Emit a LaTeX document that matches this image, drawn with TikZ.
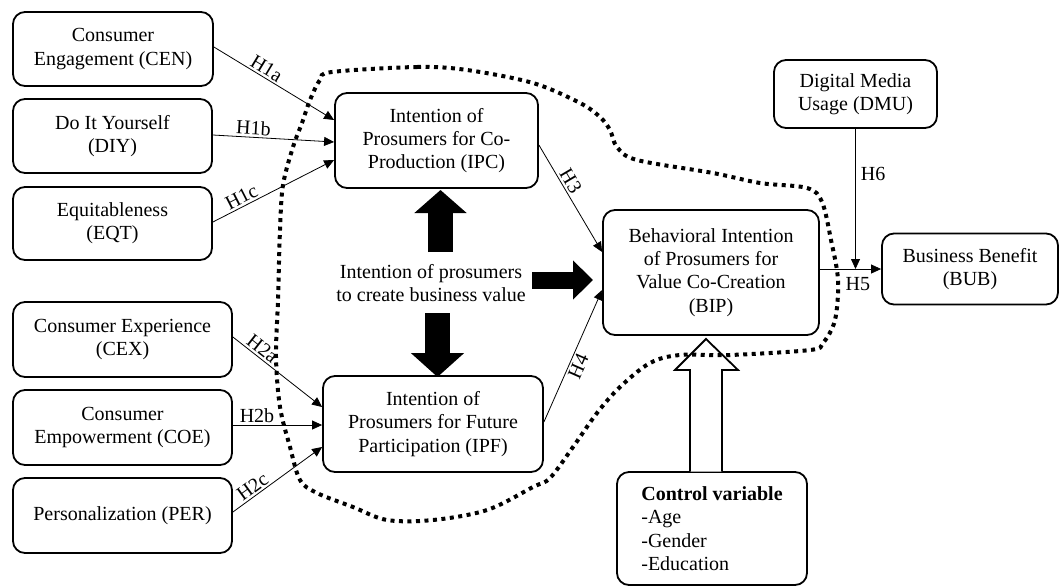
\documentclass[tikz,border=0pt]{standalone}
\usepackage{fontspec}
\setmainfont{Liberation Serif}
\usetikzlibrary{arrows.meta,calc}
\begin{document}
\begin{tikzpicture}[x=1pt,y=-1pt,
  box/.style={draw, line width=1.8pt, rounded corners=12pt, align=center,
    font=\fontsize{20}{23.3}\selectfont, inner sep=0pt},
  arr/.style={line width=0.8pt, -{Triangle[length=10pt,width=9pt]}},
  lab/.style={font=\fontsize{20}{23}\selectfont, inner sep=2pt},
  blob/.style={line width=4pt, dash pattern=on 4pt off 4.5pt},
  hollow/.style={draw, line width=1.8pt, fill=white}
]
\useasboundingbox (0,0) rectangle (1062,587);

% left boxes
\node[box, minimum width=200pt, minimum height=74pt] (cen) at (113,49) {Consumer\\Engagement (CEN)};
\node[box, minimum width=199pt, minimum height=74pt] (diy) at (112.5,136) {Do It Yourself\\(DIY)};
\node[box, minimum width=199pt, minimum height=73pt] (eqt) at (112.5,223.5) {Equitableness\\(EQT)};
\node[box, minimum width=219pt, minimum height=75pt] (cex) at (122.5,339.5) {Consumer Experience\\(CEX)};
\node[box, minimum width=219pt, minimum height=75pt] (coe) at (122.5,427.5) {Consumer\\Empowerment (COE)};
\node[box, minimum width=219pt, minimum height=75pt] (per) at (122.5,515.5) {Personalization (PER)};

% middle boxes
\node[box, minimum width=203pt, minimum height=95pt] (ipc) at (436.5,140.5) {Intention of\\Prosumers for Co-\\Production (IPC)};
\node[box, minimum width=220pt, minimum height=96pt] (ipf) at (433,424) {Intention of\\Prosumers for Future\\Participation (IPF)};
\node[align=center, font=\fontsize{20}{23.3}\selectfont, inner sep=0pt] (mid) at (431,283) {Intention of prosumers\\to create business value};

% right boxes
\node[box, minimum width=216pt, minimum height=125pt] (bip) at (711,272.5) {Behavioral Intention\\of Prosumers for\\Value Co-Creation\\(BIP)};
\node[box, minimum width=163pt, minimum height=68pt] (dmu) at (855.5,94) {Digital Media\\Usage (DMU)};
\node[box, minimum width=176pt, minimum height=71pt] (bub) at (970,269) {Business Benefit\\(BUB)};
\node[box, minimum width=190pt, minimum height=113pt, align=left] (ctl) at (712,528.5) {\textbf{Control variable}\\-Age\\-Gender\\-Education};

% thin arrows
\draw[arr] ([yshift=2pt]cen.east) -- ([yshift=20.5pt]ipc.west) node[lab, sloped, above, pos=0.4] {H1a};
\draw[arr] ([yshift=1pt]diy.east) -- ([yshift=-1.5pt]ipc.west) node[lab, sloped, above, pos=0.33] {H1b};
\draw[arr] ([yshift=1.5pt]eqt.east) -- ([yshift=-19.5pt]ipc.west) node[lab, sloped, above, pos=0.27] {H1c};
\draw[arr] ([yshift=2.5pt]cex.east) -- ([yshift=17pt]ipf.west) node[lab, sloped, above, pos=0.27] {H2a};
\draw[arr] ([yshift=2.5pt]coe.east) -- ([yshift=-1pt]ipf.west) node[lab, sloped, above, pos=0.27] {H2b};
\draw[arr] ([yshift=3.5pt]per.east) -- ([yshift=-23pt]ipf.west) node[lab, sloped, above, pos=0.28] {H2c};
\draw[arr] ([yshift=-4.5pt]ipc.east) -- ([yshift=20.5pt]bip.west) node[lab, sloped, above, pos=0.38] {H3};
\draw[arr] ([yshift=2pt]ipf.east) -- ([yshift=-17.5pt]bip.west) node[lab, sloped, below, pos=0.45] {H4};
\draw[arr] (bip.east |- bub.west) -- (bub.west) node[lab, below, pos=0.62, inner sep=4pt, yshift=-4pt] {H5};
\coordinate (j) at (dmu.south |- bub.west);
\draw[arr] (dmu.south) -- (j) node[lab, right, pos=0.32, inner sep=5pt] {H6};

% thick black arrows
\coordinate (upS) at (440.5,252);
\coordinate (upE) at (440.5,190);
\draw[line width=25pt, -{Triangle[length=23pt,width=51pt]}] (upS) -- (upE);
\coordinate (rtS) at (532,280);
\coordinate (rtE) at (593,280);
\draw[line width=17pt, -{Triangle[length=20pt,width=38pt]}] (rtS) -- (rtE);
\coordinate (dnS) at (437.5,313);
\coordinate (dnE) at (437.5,377);
\draw[line width=25pt, -{Triangle[length=24pt,width=52pt]}] (dnS) -- (dnE);

% hollow arrow from control variable to BIP
\draw[hollow] (690,471.5) -- (690,370) -- (675,370) -- (706,339) -- (738,370) -- (722,370) -- (722,471.5);

% dotted boundary
\draw[blob] plot[smooth cycle, tension=0.55] coordinates {
 (332,72) (417,67) (467,70) (533,83) (580,103) (600,117) (610,130) (617,147)
 (637,160) (713,173) (760,183) (807,188) (822,202) (831,240) (838,280)
 (835,320) (823,343) (810,350) (730,355) (680,355) (650,363) (620,387)
 (597,413) (573,447) (550,478) (533,487) (487,510) (433,520) (387,520)
 (353,507) (317,493) (300,480) (290,447) (280,407) (276,357) (278,300)
 (280,230) (283,185) (293,147) (302,123) (310,100) (320,80)};
\end{tikzpicture}
\end{document}
